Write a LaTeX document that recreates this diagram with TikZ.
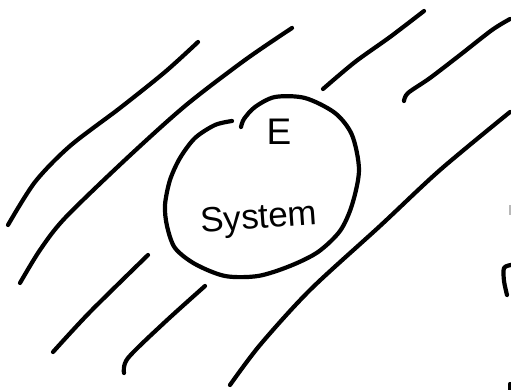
\documentclass[tikz,border=0pt]{standalone}
\usepackage{fontspec}
\setmainfont{Liberation Sans}
\usepackage{tikz}
\usetikzlibrary{positioning}
\definecolor{cInk}{HTML}{000000}
\definecolor{cFaint}{HTML}{B8B8B8}

\begin{document}
\begin{tikzpicture}[x=1pt, y=-1pt,
    pen/.style={draw=cInk, line width=4.2pt, line cap=round, line join=round},
    hand/.style={text=cInk, inner sep=0pt}]
    \useasboundingbox (0,0) rectangle (511,390);
    % field lines
    \draw[pen] plot[smooth] coordinates {(8,225) (35,182) (70,146) (120,108) (165,72) (198,42)};
    \draw[pen] plot[smooth] coordinates {(20,283) (40,250) (65,218) (125,160) (185,106) (245,60) (292,28)};
    \draw[pen] plot[smooth] coordinates {(323,89) (355,62) (390,37) (424,11)};
    \draw[pen] plot[smooth] coordinates {(404,101) (408,93) (430,78) (460,55) (492,30) (510,19)};
    \draw[pen] plot[smooth] coordinates {(230,385) (260,345) (310,290) (380,226) (440,170) (510,112)};
    \draw[pen] plot[smooth] coordinates {(53,352) (90,312) (148,255)};
    \draw[pen] plot[smooth] coordinates {(124,373) (128,358) (165,322) (205,286)};
    % the system boundary, left open near the top
    \draw[pen] plot[smooth] coordinates {(232,121) (215,125) (195,138) (180,158) (170,180) (165,205)
      (167,226) (175,248) (195,264) (225,276) (258,276) (290,266) (318,252) (340,231) (352,205)
      (359,170) (352,135) (335,113) (305,98) (275,97) (255,107) (244,119) (241,127)};
    \node[hand, font=\fontsize{37}{40}\selectfont] (lblE) at (279,132) {E};
    \node[hand, font=\fontsize{35}{38}\selectfont, rotate=4] (lblSys) at (259,220) {System};
    % cut-off marks at the right edge
    \draw[pen] plot[smooth] coordinates {(511,265) (504,268) (504,281) (507,295)};
    \draw[cFaint, line width=1.5pt] (510,205) -- (510,215);
    \draw[pen] (510,384) -- (510,392);
  \end{tikzpicture}
\end{document}
